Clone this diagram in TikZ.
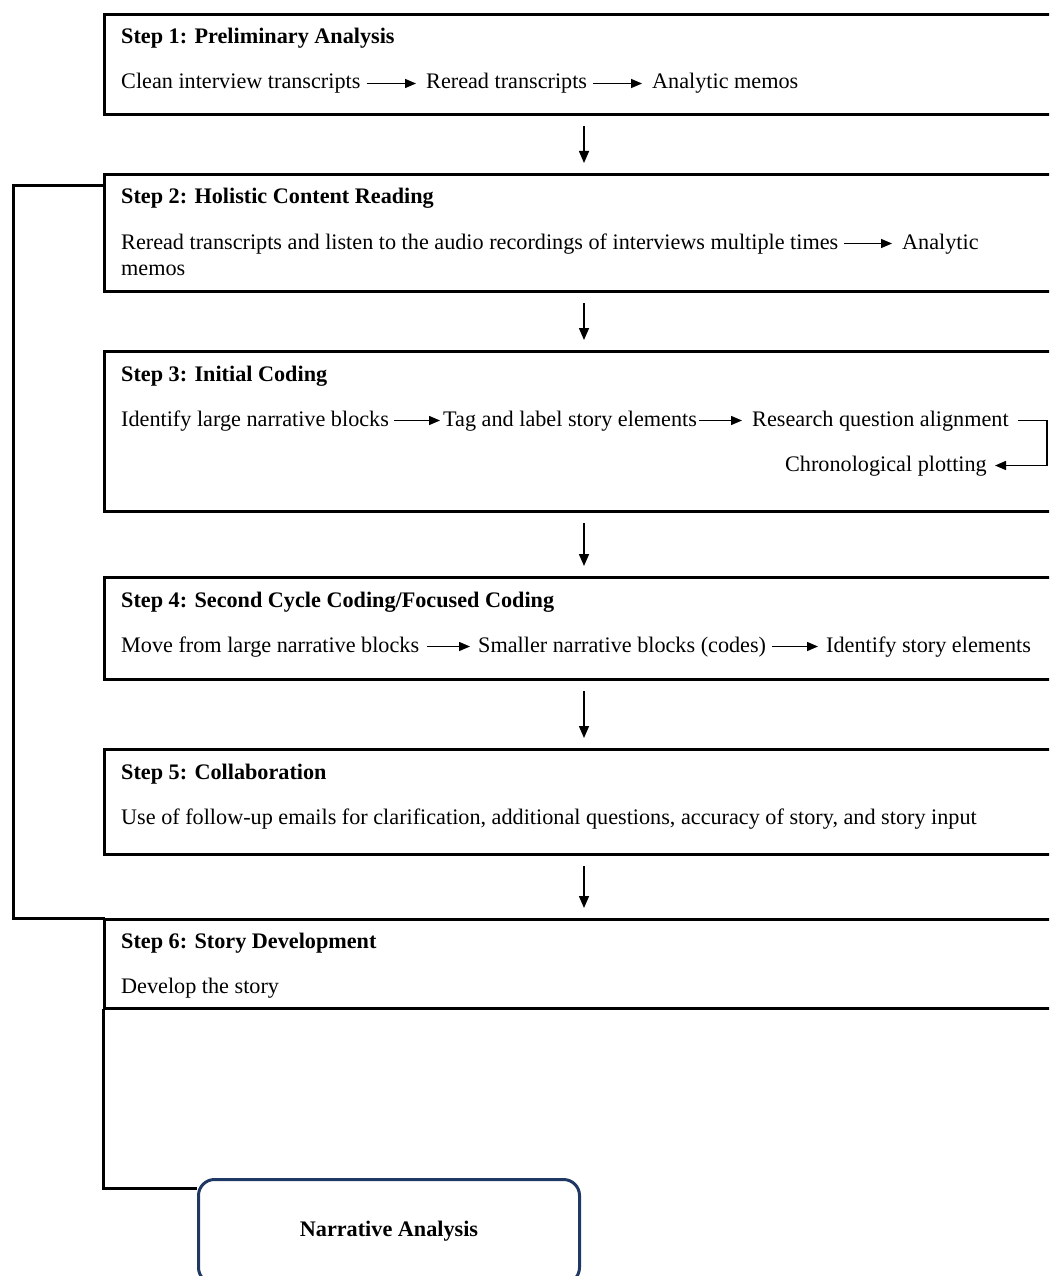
\documentclass[tikz,border=0pt]{standalone}
\usepackage{fontspec}
\setmainfont{Liberation Serif}
\usetikzlibrary{arrows.meta,calc}
\definecolor{navy}{HTML}{1F3864}
\begin{document}
\begin{tikzpicture}[x=1pt,y=-1pt,
  stepbox/.style={draw=black,line width=3pt,anchor=north west,minimum width=1000pt,inner sep=0pt},
  txt/.style={anchor=base west,inner sep=0pt,font=\fontsize{22.2}{27}\selectfont},
  ttl/.style={anchor=base west,inner sep=0pt,font=\fontsize{22.2}{27}\selectfont\bfseries},
  flow/.style={line width=1.5pt,-{Triangle[length=12pt,width=10pt]}},
  inl/.style={line width=1.5pt,-{Triangle[length=11pt,width=9pt]}},
  link/.style={line width=3pt,line cap=rect}]
\useasboundingbox (0,0) rectangle (1049,1276);
\clip (0,0) rectangle (1049,1276);

% step boxes
\node[stepbox,minimum height=100pt] (b1) at (103,13) {};
\node[stepbox,minimum height=117pt] (b2) at (103,173) {};
\node[stepbox,minimum height=160pt] (b3) at (103,350) {};
\node[stepbox,minimum height=102pt] (b4) at (103,576) {};
\node[stepbox,minimum height=105pt] (b5) at (103,748) {};
\node[stepbox,minimum height=89pt] (b6) at (103,918) {};

% final box
\node[draw=navy,line width=3pt,rounded corners=16pt,anchor=north west,
      minimum width=381pt,minimum height=104pt,inner sep=0pt,
      font=\fontsize{22.2}{27}\selectfont\bfseries] (na) at (197,1178) {Narrative Analysis};

% Step 1
\node[ttl] (t1) at (121,44) {Step 1: Preliminary Analysis};
\node[txt] (c1a) at (121,89) {Clean interview transcripts};
\node[txt] (c1b) at (426,89) {Reread transcripts};
\node[txt] (c1c) at (652,89) {Analytic memos};
\draw[inl] ([shift={(6pt,5.5pt)}]c1a.base east) -- ([shift={(-10pt,5.5pt)}]c1b.base west);
\draw[inl] ([shift={(6pt,5.5pt)}]c1b.base east) -- ([shift={(-10pt,5.5pt)}]c1c.base west);

% Step 2
\node[ttl] (t2) at (121,204) {Step 2: Holistic Content Reading};
\node[txt] (c2a) at (121,249) {Reread transcripts and listen to the audio recordings of interviews multiple times};
\node[txt] (c2b) at (902,249) {Analytic};
\node[txt] (c2c) at (121,275) {memos};
\draw[inl] ([shift={(6pt,5.5pt)}]c2a.base east) -- ([shift={(-10pt,5.5pt)}]c2b.base west);

% Step 3
\node[ttl] (t3) at (121,381) {Step 3: Initial Coding};
\node[txt] (c3a) at (121,426) {Identify large narrative blocks};
\node[txt] (c3b) at (443,426) {Tag and label story elements};
\node[txt] (c3c) at (752,426) {Research question alignment};
\node[txt,anchor=base east] (c3d) at (987,471) {Chronological plotting};
\draw[inl] ([shift={(5pt,5.5pt)}]c3a.base east) -- ([shift={(-3pt,5.5pt)}]c3b.base west);
\draw[inl] ([shift={(2pt,5.5pt)}]c3b.base east) -- ([shift={(-10pt,5.5pt)}]c3c.base west);
\coordinate (turn) at (1047,471);
\draw[inl] ([shift={(9pt,5.5pt)}]c3c.base east) -| ([yshift=5.5pt]turn) -- ([shift={(8pt,5.5pt)}]c3d.base east);

% Step 4
\node[ttl] (t4) at (121,607) {Step 4: Second Cycle Coding/Focused Coding};
\node[txt] (c4a) at (121,652) {Move from large narrative blocks};
\node[txt] (c4b) at (478,652) {Smaller narrative blocks (codes)};
\node[txt] (c4c) at (826,652) {Identify story elements};
\draw[inl] ([shift={(8pt,5.5pt)}]c4a.base east) -- ([shift={(-8pt,5.5pt)}]c4b.base west);
\draw[inl] ([shift={(6pt,5.5pt)}]c4b.base east) -- ([shift={(-8pt,5.5pt)}]c4c.base west);

% Step 5
\node[ttl] (t5) at (121,779) {Step 5: Collaboration};
\node[txt] (c5a) at (121,824) {Use of follow-up emails for clarification, additional questions, accuracy of story, and story input};

% Step 6
\node[ttl] (t6) at (121,948) {Step 6: Story Development};
\node[txt] (c6a) at (121,993) {Develop the story};

% vertical arrows between steps
\draw[flow] ([shift={(481pt,-10pt)}]b1.south west) -- ([shift={(481pt,10pt)}]b2.north west);
\draw[flow] ([shift={(481pt,-10pt)}]b2.south west) -- ([shift={(481pt,10pt)}]b3.north west);
\draw[flow] ([shift={(481pt,-10pt)}]b3.south west) -- ([shift={(481pt,10pt)}]b4.north west);
\draw[flow] ([shift={(481pt,-10pt)}]b4.south west) -- ([shift={(481pt,10pt)}]b5.north west);
\draw[flow] ([shift={(481pt,-10pt)}]b5.south west) -- ([shift={(481pt,10pt)}]b6.north west);

% loop line from step 2 to step 6
\draw[link] ([yshift=-13pt]b2.north west) -- ++(-90,0) |- (b6.north west);

% step 6 to narrative analysis
\coordinate (naport) at ([yshift=-10pt]na.north west);
\draw[link,line cap=butt] ([yshift=1.5pt]b6.south west) |- (naport);
\end{tikzpicture}
\end{document}
